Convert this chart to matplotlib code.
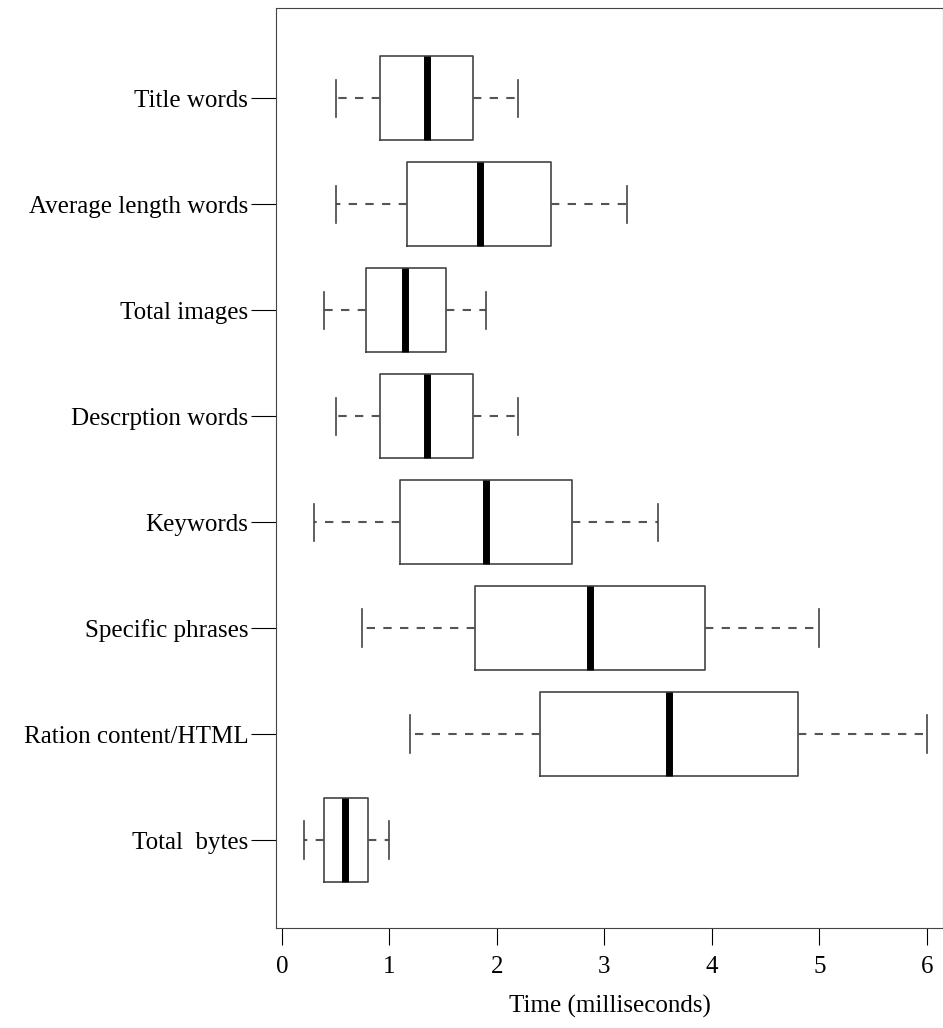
import matplotlib
matplotlib.use("Agg")
import matplotlib.pyplot as plt

cats = ["Title words", "Average length words", "Total images", "Descrption words",
        "Keywords", "Specific phrases", "Ration content/HTML", "Total  bytes"]
whislo = [0.50, 0.50, 0.39, 0.50, 0.30, 0.74, 1.19, 0.20]
q1     = [0.91, 1.16, 0.78, 0.91, 1.10, 1.80, 2.40, 0.39]
med    = [1.35, 1.84, 1.14, 1.35, 1.90, 2.87, 3.60, 0.59]
q3     = [1.78, 2.50, 1.53, 1.78, 2.70, 3.94, 4.80, 0.80]
whishi = [2.20, 3.21, 1.90, 2.20, 3.50, 5.00, 6.00, 1.00]

plt.rcParams['font.family'] = ['Liberation Serif', 'DejaVu Serif']
fig = plt.figure(figsize=(9.43, 10.28), dpi=100)
ax = fig.add_axes([276/943, 1-928/1028, 1-276/943, 920/1028])
n = len(cats)
stats = [dict(label=c, whislo=a, q1=b, med=m, q3=d, whishi=e, fliers=[])
         for c, a, b, m, d, e in zip(cats, whislo, q1, med, q3, whishi)]
pos = list(range(n, 0, -1))
ax.bxp(stats, positions=pos, vert=False, widths=0.8, showfliers=False,
       boxprops=dict(color='#444444', linewidth=1.2),
       whiskerprops=dict(color='#555555', linewidth=1.5, linestyle=(0, (4, 4))),
       capprops=dict(color='#444444', linewidth=1.2),
       capwidths=0.35,
       medianprops=dict(color='black', linewidth=5, solid_capstyle='butt'))
ax.set_xlim(-0.056, 6.15)
ax.set_ylim(0.17, 8.85)
ax.set_yticks(pos)
ax.set_yticklabels(cats, fontsize=18)
ax.set_xticks(range(7))
ax.tick_params(axis='x', labelsize=18, length=12, direction='out', pad=8)
ax.tick_params(axis='y', length=18, pad=2)
for s in ax.spines.values():
    s.set_color('#444444')
ax.set_xlabel("Time (milliseconds)", fontsize=18, labelpad=12)
fig.savefig("out.png", dpi=100)
